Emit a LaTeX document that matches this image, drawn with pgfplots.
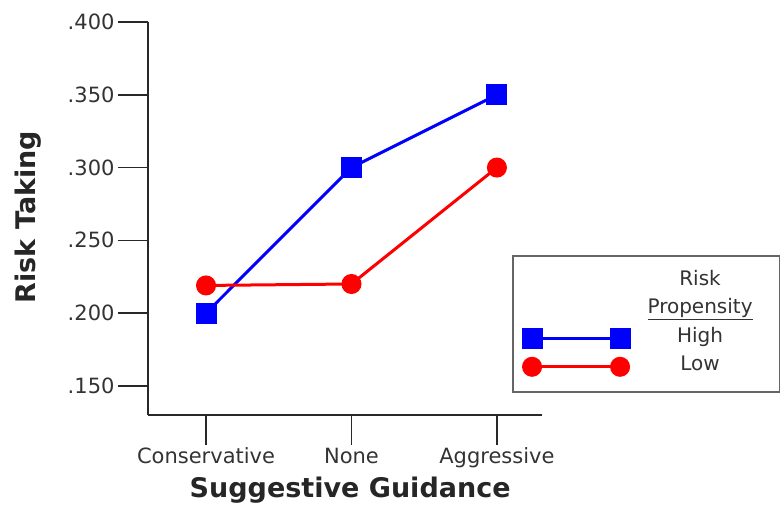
\documentclass[border=0pt]{standalone}
\usepackage{pgfplots}
\pgfplotsset{compat=1.18}
\usepackage{fontspec}
\setmainfont{DejaVu Sans}
\definecolor{hiblue}{RGB}{0,0,255}
\definecolor{lored}{RGB}{255,0,0}
\definecolor{axgray}{RGB}{40,40,40}
\pgfplotsset{twomark/.style={legend image code/.code={\draw[##1] plot coordinates {(0bp,0bp) (88bp,0bp)};}}}
\begin{document}
\begin{tikzpicture}[x=1bp,y=1bp]
\path[use as bounding box] (0,0) rectangle (780,508);
\begin{axis}[
  at={(148bp,93bp)}, anchor=south west,
  scale only axis, width=394bp, height=393bp,
  xmin=-0.399, xmax=2.31, ymin=0.13, ymax=0.4,
  axis x line*=bottom, axis y line*=left,
  axis line style={-, line width=1.6bp, draw=axgray},
  every tick/.style={line width=1.6bp, draw=axgray},
  tick align=outside, major tick length=30bp,
  xtick={0,1,2}, xticklabels={Conservative,None,Aggressive},
  ytick={0.15,0.2,0.25,0.3,0.35,0.4},
  yticklabels={.150,.200,.250,.300,.350,.400},
  tick label style={font=\fontsize{21bp}{25bp}\selectfont, text=black!80},
  xticklabel style={text height=15bp, text depth=5bp},
  xlabel={Suggestive Guidance}, ylabel={Risk Taking},
  label style={font=\bfseries\fontsize{27bp}{32bp}\selectfont, text=black!85},
  xlabel style={at={(axis description cs:0.513,-0.191)}, anchor=center},
  ylabel style={at={(axis description cs:-0.305,0.504)}, anchor=center},
  legend cell align=center,
  legend style={at={(axis description cs:0.924,0.407)}, anchor=north west,
    draw=black!60, line width=2bp, fill=white,
    font=\fontsize{20bp}{24bp}\selectfont, text=black!80,
    inner xsep=10bp, inner ysep=13bp, row sep=4bp,
    nodes={inner xsep=2bp, inner ysep=0bp, text height=16bp, text depth=8.5bp},
    /tikz/every odd column/.append style={column sep=1bp}},
  clip=false,
]
\addlegendimage{empty legend}
\addlegendentry{\makebox[136bp][c]{Risk}}
\addlegendimage{empty legend}
\addlegendentry{\underline{Propensity}}
\addplot[hiblue, line width=3bp, mark=square*, mark size=9bp, mark options={solid}, twomark]
  coordinates {(0,0.200) (1,0.300) (2,0.350)};
\addlegendentry{High}
\addplot[lored, line width=3bp, mark=*, mark size=8.5bp, mark options={solid}, twomark]
  coordinates {(0,0.219) (1,0.220) (2,0.300)};
\addlegendentry{Low}
\end{axis}
\end{tikzpicture}
\end{document}
